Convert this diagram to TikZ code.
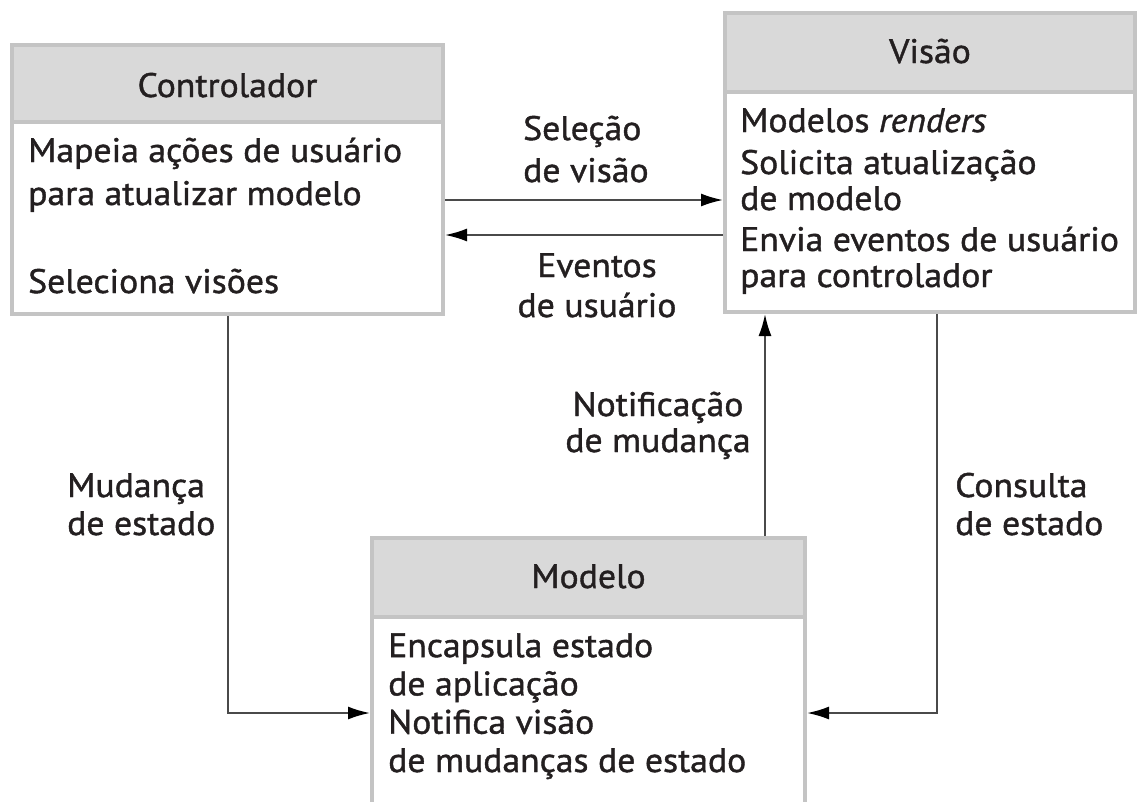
\documentclass[tikz,border=0pt]{standalone}
\usepackage{fontspec}
\setmainfont{PT Sans}[FakeBold=1.2,FakeStretch=1.05]
\usetikzlibrary{arrows.meta}
\definecolor{hdrfill}{HTML}{D9D9D9}
\definecolor{bordergray}{HTML}{C4C4C4}
\definecolor{linegray}{HTML}{4A4A4A}
\definecolor{txt}{HTML}{231F20}
\newcommand{\fs}[1]{\fontsize{34}{#1}\selectfont}
\begin{document}
\begin{tikzpicture}[x=1pt,y=-1pt,
  font=\fs{38},
  box/.style={draw=bordergray, line width=4pt, inner sep=0pt, fill=white},
  hdr/.style={box, fill=hdrfill},
  bodytxt/.style={inner sep=0pt, anchor=base west, align=left, text=txt},
  hdrtxt/.style={inner sep=0pt, anchor=base, text=txt},
  lblL/.style={inner sep=0pt, anchor=base west, align=left, text=txt},
  lblC/.style={inner sep=0pt, anchor=base, align=center, text=txt},
  arr/.style={draw=linegray, line width=2pt, -{Latex[length=22pt,width=13pt,color=black]}}
]
\useasboundingbox (0,0) rectangle (1145,801);
\clip (0,0) rectangle (1145,801);

% Controlador
\node[box, minimum width=431pt, minimum height=192pt] (ctrl) at (227.5,218) {};
\node[hdr, minimum width=431pt, minimum height=77pt] (ctrlH) at (227.5,83.5) {};
\node[hdrtxt] (ctrlT) at (227.5,97) {Controlador};
\node[bodytxt, font=\fs{43}] (ctrl1) at (28,205) {Mapeia ações de usuário\\para atualizar modelo};
\node[bodytxt] (ctrl2) at (28,293) {Seleciona visões};

% Visao
\node[box, minimum width=410pt, minimum height=220pt] (vis) at (930,202) {};
\node[hdr, minimum width=410pt, minimum height=79pt] (visH) at (930,52.5) {};
\node[hdrtxt] (visT) at (930,63) {Visão};
\node[bodytxt] (vis1) at (740,132) {Modelos \textit{renders}};
\node[bodytxt, font=\fs{36}] (vis2) at (740,210) {Solicita atualização\\de modelo};
\node[bodytxt, font=\fs{36}] (vis3) at (740,287) {Envia eventos de usuário\\para controlador};

% Modelo
\node[box, minimum width=433pt, minimum height=243pt] (mod) at (588.5,738.5) {};
\node[hdr, minimum width=433pt, minimum height=79pt] (modH) at (588.5,577.5) {};
\node[hdrtxt] (modT) at (588.5,588) {Modelo};
\node[bodytxt, font=\fs{38.3}] (mod1) at (388,772) {Encapsula estado\\de aplicação\\Notifica visão\\de mudanças de estado};

% labels
\node[lblL, font=\fs{42}] (l1) at (523,182) {Seleção\\de visão};
\node[lblC, font=\fs{40}] (l2) at (597,317) {Eventos\\de usuário};
\node[lblC, font=\fs{36}] (l3) at (658,452) {Notificação\\de mudança};
\node[lblL] (l4) at (67,535) {Mudança\\de estado};
\node[lblL] (l5) at (955,535) {Consulta\\de estado};

% connectors
\coordinate (y1) at (0,200);
\coordinate (y2) at (0,235);
\coordinate (c1) at (228,713);
\coordinate (c2) at (765,0);
\coordinate (c3) at (937,713);
\draw[arr] (ctrl.east |- y1) -- (vis.west |- y1);
\draw[arr] (vis.west |- y2) -- (ctrl.east |- y2);
\draw[arr] (ctrl.south -| c1) |- (mod.west |- c1);
\draw[arr] (modH.north -| c2) -- (vis.south -| c2);
\draw[arr] (vis.south -| c3) |- (mod.east |- c3);
\end{tikzpicture}
\end{document}
